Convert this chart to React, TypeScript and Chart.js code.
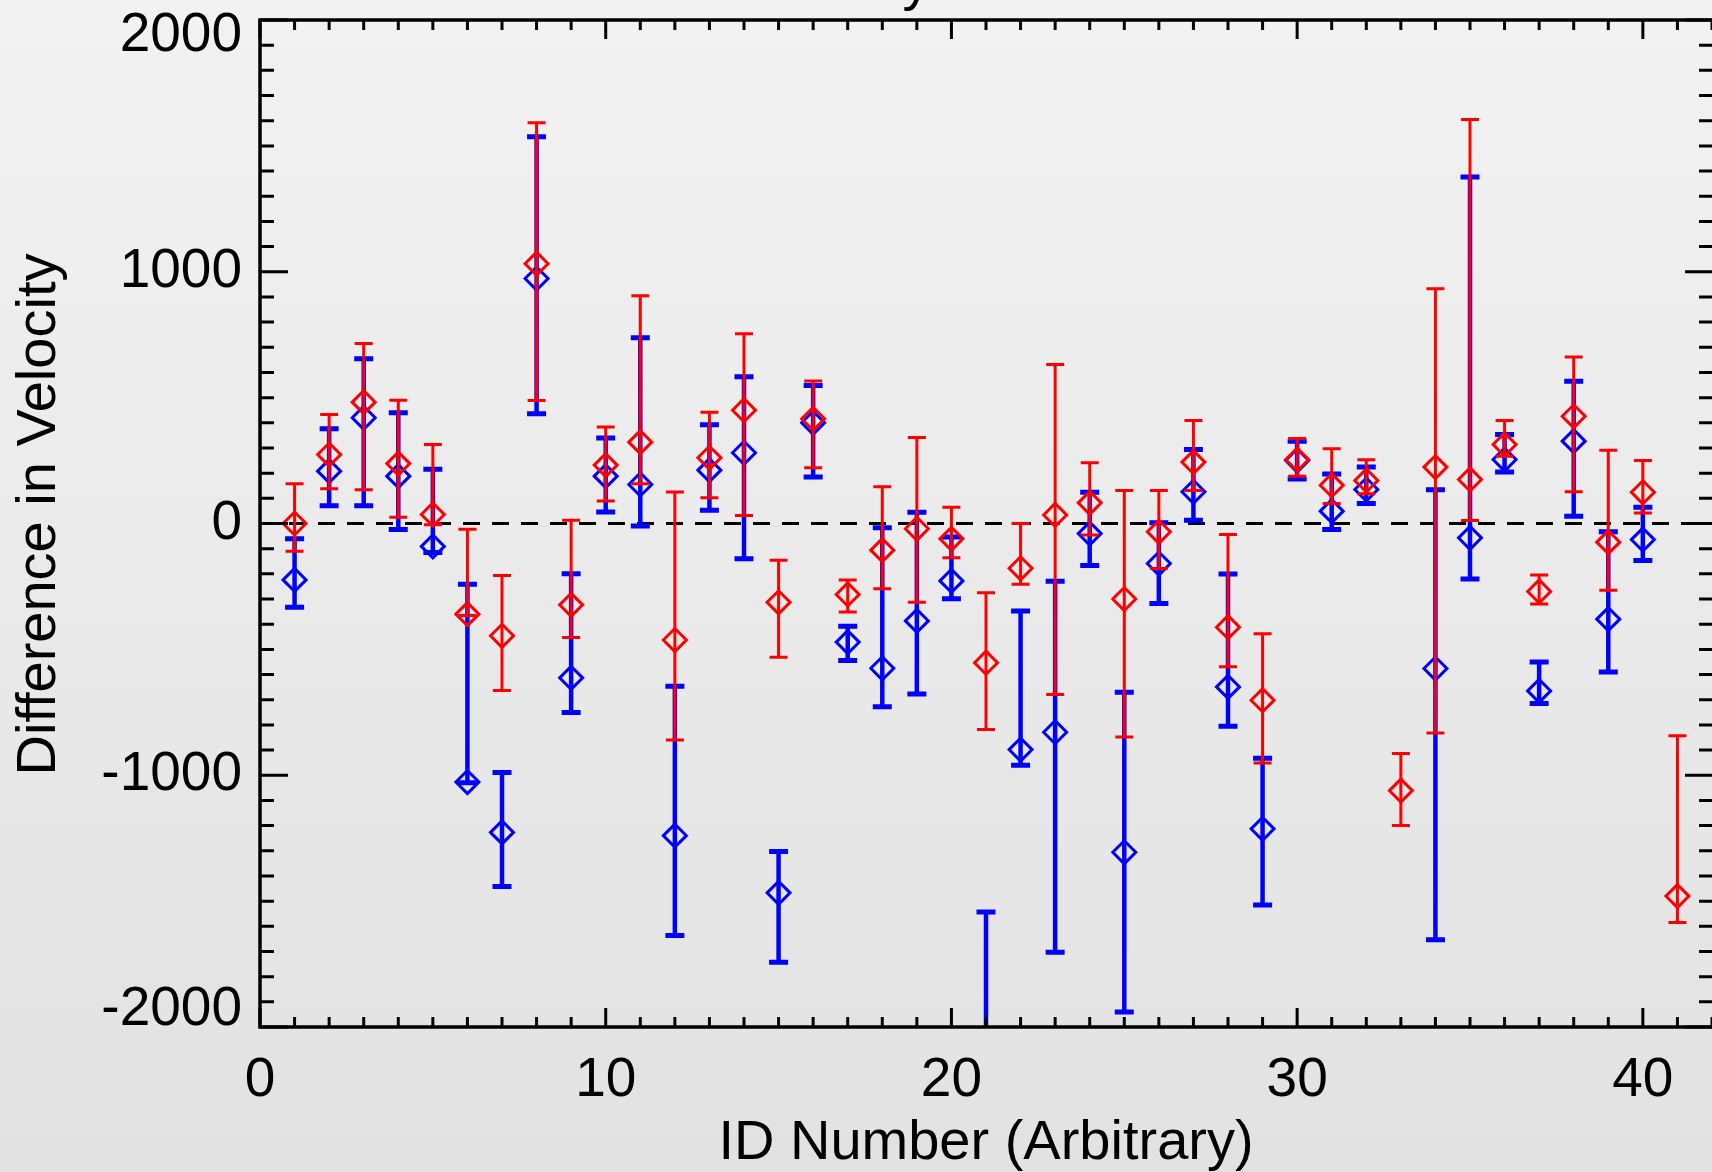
import React, { useEffect, useRef } from 'react';
import { Chart, registerables } from 'chart.js';

Chart.register(...registerables);

const FONT_FAMILY = '"Liberation Sans", Arial, Helvetica, sans-serif';

// ---- data ----
const idNumbers = [1, 2, 3, 4, 5, 6, 7, 8, 9, 10, 11, 12, 13, 14, 15, 16, 17, 18, 19, 20, 21, 22, 23, 24, 25, 26, 27, 28, 29, 30, 31, 32, 33, 34, 35, 36, 37, 38, 39, 40, 41];

const redValues = [0, 274, 482, 238, 36, -360, -446, 1032, -323, 232, 323, -463, 261, 450, -313, 416, -282, -106, -21, -61, -553, -178, 34, 82, -300, -33, 244, -412, -702, 254, 152, 171, -1061, 224, 175, 314, -270, 426, -74, 124, -1480];
const redUpper = [158, 433, 715, 490, 314, -23, -207, 1592, 13, 383, 905, 125, 442, 754, -146, 566, -224, 146, 342, 65, -275, 0, 632, 241, 131, 131, 409, -44, -438, 338, 297, 253, -914, 932, 1605, 409, -205, 661, 291, 250, -843];
const redLower = [-110, 138, 134, 25, -5, -365, -663, 489, -453, 89, 158, -860, 102, 32, -531, 221, -352, -259, -313, -136, -818, -241, -679, -46, -848, -179, 131, -569, -951, 188, 79, 118, -1200, -832, 12, 267, -320, 126, -265, 42, -1585];

const blueValues = [-224, 208, 420, 188, -91, -1027, -1227, 973, -613, 188, 155, -1240, 212, 281, -1467, 400, -471, -575, -387, -228, -2200, -898, -829, -40, -1306, -159, 126, -649, -1213, 250, 49, 135, null, -576, -57, 254, -665, 327, -380, -64, null];
const blueUpper = [-61, 376, 654, 440, 215, -241, -989, 1536, -200, 340, 738, -646, 392, 583, -1303, 548, -408, -17, 45, -54, -1543, -348, -229, 124, -670, 3, 294, -201, -932, 327, 197, 224, null, 134, 1376, 354, -550, 565, -33, 65, null];
const blueLower = [-333, 71, 71, -24, -115, -1030, -1442, 436, -751, 46, -10, -1637, 53, -140, -1743, 185, -544, -728, -677, -299, -2400, -960, -1703, -167, -1940, -318, 13, -805, -1515, 177, -24, 79, null, -1653, -220, 205, -715, 29, -590, -147, null];

const xTickLabels = [0, 10, 20, 30, 40];
const yTickLabels = [-2000, -1000, 0, 1000, 2000];

const chartTitle = 'Velocity Difference';
const xTitle = 'ID Number (Arbitrary)';
const yTitle = 'Difference in Velocity';

function buildPoints(values: (number | null)[], upper: (number | null)[], lower: (number | null)[]) {
  const pts: { x: number; y: number; hi: number; lo: number }[] = [];
  idNumbers.forEach((id, i) => {
    const v = values[i];
    if (v === null || v === undefined) return;
    pts.push({ x: id, y: v, hi: upper[i] as number, lo: lower[i] as number });
  });
  return pts;
}

// ---- plugins ----
const backgroundPlugin = {
  id: 'bgGradient',
  beforeDraw(chart: any) {
    const { ctx, width, height } = chart;
    const g = ctx.createLinearGradient(0, 0, 0, height);
    g.addColorStop(0, '#f2f2f2');
    g.addColorStop(1, '#e2e2e2');
    ctx.save();
    ctx.fillStyle = g;
    ctx.fillRect(0, 0, width, height);
    ctx.restore();
  },
};

const zeroLinePlugin = {
  id: 'zeroLine',
  beforeDatasetsDraw(chart: any) {
    const { ctx, chartArea } = chart;
    const y = chart.scales.y.getPixelForValue(0);
    ctx.save();
    ctx.strokeStyle = '#000';
    ctx.lineWidth = 3;
    ctx.setLineDash([17, 12]);
    ctx.beginPath();
    ctx.moveTo(chartArea.left, y);
    ctx.lineTo(chartArea.right, y);
    ctx.stroke();
    ctx.restore();
  },
};

const errorBarPlugin = {
  id: 'errorBars',
  beforeDatasetDraw(chart: any, args: any) {
    const ds = chart.data.datasets[args.index];
    if (!ds.errColor) return;
    const { ctx, chartArea } = chart;
    const xs = chart.scales.x;
    const ys = chart.scales.y;
    ctx.save();
    ctx.beginPath();
    ctx.rect(chartArea.left, chartArea.top, chartArea.right - chartArea.left, chartArea.bottom - chartArea.top);
    ctx.clip();
    ctx.strokeStyle = ds.errColor;
    ds.data.forEach((p: any) => {
      const x = xs.getPixelForValue(p.x);
      const yu = ys.getPixelForValue(p.hi);
      const yl = ys.getPixelForValue(p.lo);
      ctx.lineWidth = ds.errLineWidth;
      ctx.beginPath();
      ctx.moveTo(x, yu);
      ctx.lineTo(x, yl);
      ctx.stroke();
      ctx.lineWidth = ds.capLineWidth;
      ctx.beginPath();
      ctx.moveTo(x - ds.capHalf, yu);
      ctx.lineTo(x + ds.capHalf, yu);
      ctx.moveTo(x - ds.capHalf, yl);
      ctx.lineTo(x + ds.capHalf, yl);
      ctx.stroke();
    });
    ctx.restore();
  },
};

const framePlugin = {
  id: 'frame',
  afterDraw(chart: any) {
    const { ctx, chartArea } = chart;
    const { left, right, top, bottom } = chartArea;
    const xs = chart.scales.x;
    const ys = chart.scales.y;
    ctx.save();
    ctx.strokeStyle = '#000';
    ctx.fillStyle = '#000';

    // ticks
    ctx.lineWidth = 3;
    ctx.beginPath();
    for (let v = xs.min; v <= xs.max; v += 1) {
      const x = xs.getPixelForValue(v);
      const len = v % 10 === 0 ? 19 : 10;
      ctx.moveTo(x, bottom);
      ctx.lineTo(x, bottom - len);
      ctx.moveTo(x, top);
      ctx.lineTo(x, top + len);
    }
    for (let v = ys.min; v <= ys.max; v += 100) {
      const y = ys.getPixelForValue(v);
      const major = v % 1000 === 0;
      ctx.moveTo(left, y);
      ctx.lineTo(left + (major ? 28 : 14), y);
      ctx.moveTo(right, y);
      ctx.lineTo(right - (major ? 27 : 13), y);
    }
    ctx.stroke();

    // axis lines (right axis lies at the image edge)
    ctx.lineWidth = 3.5;
    ctx.beginPath();
    ctx.moveTo(left, bottom);
    ctx.lineTo(left, top);
    ctx.moveTo(left - 1.75, top);
    ctx.lineTo(right, top);
    ctx.moveTo(left - 1.75, bottom);
    ctx.lineTo(right, bottom);
    ctx.stroke();

    // y tick labels
    ctx.font = `55px ${FONT_FAMILY}`;
    ctx.textAlign = 'right';
    ctx.textBaseline = 'middle';
    yTickLabels.forEach((v) => {
      let y = ys.getPixelForValue(v);
      y = Math.min(Math.max(y, top + 16), bottom - 17);
      ctx.fillText(String(v), left - 18, y);
    });

    // axis titles
    ctx.font = `56px ${FONT_FAMILY}`;
    ctx.textAlign = 'center';
    ctx.textBaseline = 'alphabetic';
    ctx.fillText(xTitle, (left + right) / 2, 1159);

    ctx.save();
    ctx.translate(55, (top + bottom) / 2 - 9);
    ctx.rotate(-Math.PI / 2);
    ctx.fillText(yTitle, 0, 0);
    ctx.restore();

    // chart title (mostly above the visible area)
    ctx.fillText(chartTitle, 969, -1);

    ctx.restore();
  },
};

export default function App() {
  const canvasRef = useRef<HTMLCanvasElement | null>(null);

  useEffect(() => {
    const canvas = canvasRef.current;
    if (!canvas) return;

    const redPoints = buildPoints(redValues, redUpper, redLower);
    const bluePoints = buildPoints(blueValues, blueUpper, blueLower);

    const chart = new Chart(canvas, {
      type: 'scatter',
      data: {
        datasets: [
          {
            label: 'Red',
            data: redPoints,
            showLine: false,
            pointStyle: 'rectRot',
            pointRadius: 11.5,
            pointHoverRadius: 11.5,
            pointBorderWidth: 3,
            pointBorderColor: '#ff0000',
            pointBackgroundColor: 'rgba(0,0,0,0)',
            errColor: '#ff0000',
            errLineWidth: 3,
            capLineWidth: 3,
            capHalf: 9,
          } as any,
          {
            label: 'Blue',
            data: bluePoints,
            showLine: false,
            pointStyle: 'rectRot',
            pointRadius: 11.5,
            pointHoverRadius: 11.5,
            pointBorderWidth: 3,
            pointBorderColor: '#0000ff',
            pointBackgroundColor: 'rgba(0,0,0,0)',
            errColor: '#0000ff',
            errLineWidth: 4.5,
            capLineWidth: 5,
            capHalf: 9.5,
          } as any,
        ],
      },
      options: {
        responsive: false,
        animation: false,
        devicePixelRatio: 1,
        layout: { padding: { top: 20, left: 0, right: 0, bottom: 0 }, autoPadding: false },
        plugins: {
          legend: { display: false },
          tooltip: { enabled: false },
          title: { display: false },
        },
        events: [],
        scales: {
          x: {
            type: 'linear',
            position: 'bottom',
            min: 0,
            max: 42,
            grid: { display: false, drawTicks: false, tickLength: 0 },
            border: { display: false },
            afterFit: (s: any) => {
              s.height = 145;
            },
            afterBuildTicks: (s: any) => {
              s.ticks = xTickLabels.map((v) => ({ value: v }));
            },
            ticks: {
              color: '#000',
              font: { family: FONT_FAMILY, size: 55 },
              padding: 21,
              maxRotation: 0,
              autoSkip: false,
            },
          },
          y: {
            type: 'linear',
            position: 'left',
            min: -2000,
            max: 2000,
            grid: { display: false, drawTicks: false, tickLength: 0 },
            border: { display: false },
            ticks: { display: false, stepSize: 1000 },
            afterFit: (s: any) => {
              s.width = 260;
            },
          },
        },
      } as any,
      plugins: [backgroundPlugin, zeroLinePlugin, errorBarPlugin, framePlugin],
    });

    return () => {
      chart.destroy();
    };
  }, []);

  return (
    <div style={{ position: 'fixed', left: 0, top: 0, width: '1712px', height: '1172px' }}>
      <canvas ref={canvasRef} width={1712} height={1172} style={{ display: 'block', width: '1712px', height: '1172px' }} />
    </div>
  );
}
